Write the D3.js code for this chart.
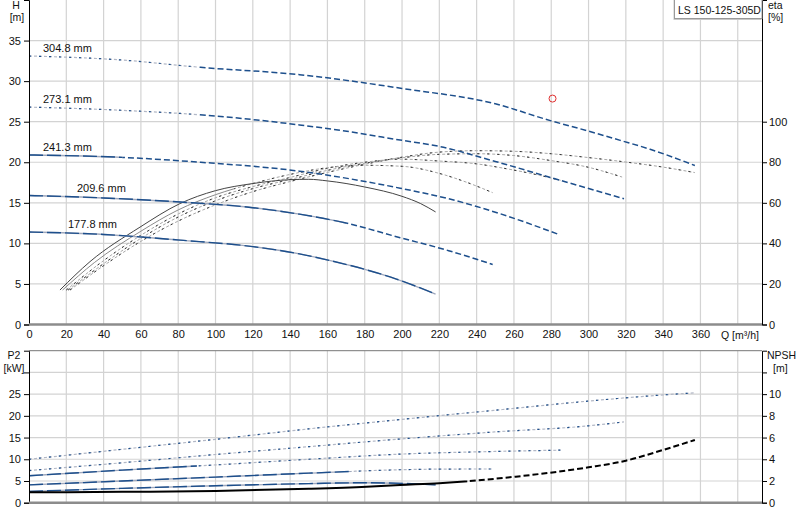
<!DOCTYPE html>
<html>
<head>
<meta charset="utf-8">
<title>LS 150-125-305D</title>
<script src="https://cdn.jsdelivr.net/npm/d3@7"></script>
<style>
	body { margin: 0; background: #fff; }
	text { font-family: Arial, "Liberation Sans", sans-serif; font-size: 11px; fill: #111; }
</style>
</head>
<body>
<script type="text/javascript">

	// impeller diameters, largest first
	var diameters = ["304.8 mm", "273.1 mm", "241.3 mm", "209.6 mm", "177.8 mm"];

	// Q [m3/h], H [m]
	var headCurves = [
		[[0,33.1],[50,32.6],[92,31.7],[145,30.8],[200,29.1],[250,27.2],[280,25.1],[299,23.9],[317,22.7],[333,21.6],[357,19.6]],
		[[0,26.8],[50,26.4],[100,25.7],[145,24.6],[168,23.9],[200,22.7],[220,21.95],[250,20.1],[280,18.1],[319,15.5]],
		[[0,20.9],[50,20.6],[92,20.0],[145,18.9],[199,16.8],[225,15.5],[252,13.7],[284,11.1]],
		[[0,15.9],[40,15.6],[81,15.1],[120,14.4],[145,13.6],[170,12.5],[199,10.7],[225,9.1],[248.6,7.4]],
		[[0,11.4],[40,11.1],[81,10.4],[120,9.6],[145,8.7],[161,7.9],[180,6.8],[197,5.6],[218,3.75]]
	];

	// Q [m3/h], eta [%]
	var etaCurves = [
		[[22,17],[40,29],[60,41],[80,51],[100,59],[120,65.5],[140,70.5],[160,75],[180,79],[200,82.5],[220,85],[240,85.7],[260,85.4],[280,84.2],[300,82.3],[320,80.1],[340,77.6],[357,74.9]],
		[[21,17],[40,30],[60,42.5],[80,53],[100,61],[120,67],[140,71.5],[160,76],[180,79.5],[200,82.2],[220,83.9],[240,84.2],[260,83.3],[280,80.8],[300,77.5],[318,72.7]],
		[[20,17],[40,31.5],[60,44],[80,54.5],[100,62.5],[120,68],[140,72.5],[160,77],[180,80],[200,81.5],[220,80.6],[240,79.2],[256,76.8],[270,74.3],[285,71.1]],
		[[18,17],[35,30.5],[60,46],[80,56.5],[100,64],[120,69.5],[140,74],[160,77.3],[180,78.5],[200,78],[220,74.5],[235,70],[248.6,65]],
		[[16.6,17],[32.7,31],[59.5,48],[80.9,59.6],[100,66],[120,69.5],[140,71.4],[150,71.6],[160,70.8],[180,67.8],[200,63.2],[210,59.6],[218,55.5]]
	];

	// Q [m3/h], P2 [kW]
	var powerCurves = [
		[[0,10.0],[50,12.3],[100,14.6],[150,17.0],[200,19.2],[250,21.3],[300,23.4],[330,24.5],[357,25.3]],
		[[0,7.4],[50,9.2],[100,11.1],[150,12.9],[200,14.7],[250,16.3],[300,17.7],[319,18.6]],
		[[0,6.2],[50,7.5],[100,8.7],[150,10.0],[200,11.2],[250,11.8],[285,12.1]],
		[[0,4.1],[50,5.0],[100,5.9],[150,6.8],[200,7.6],[225,7.75],[248.6,7.76]],
		[[0,2.6],[50,3.3],[100,3.9],[150,4.4],[180,4.6],[200,4.45],[218,4.1]]
	];

	// Q [m3/h], NPSH [m]
	var npshCurve = [[0,0.96],[50,1.0],[100,1.08],[150,1.28],[181,1.47],[199,1.63],[220,1.8],[261,2.4],[300,3.26],[320,3.87],[340,4.86],[357,5.78]];

	var dutyPoint = [280.7, 27.85];

	var qTicks = d3.range(0, 361, 20);
	var hTicks = d3.range(0, 36, 5);
	var etaTicks = d3.range(0, 101, 20);
	var p2Ticks = d3.range(0, 31, 5);
	var npshTicks = d3.range(0, 13, 2);

	// layout
	var width = 800, height = 520;
	var lpad = 29, rpad = 762;
	var top1 = 0, bot1 = 324.5, top2 = 350.7, bot2 = 502.7;

	var blue = "#1d4f8c";
	var st = {
		solid: [{ c: "#9fa8bd", w: 1.4 }, { c: blue, w: 1.4, d: "14,4" }],
		dash: [{ c: blue, w: 1.5, d: "6,3" }],
		dot: [{ c: "#b3b8c6", w: 1.2, d: "3,2" }, { c: blue, w: 1.2, d: "2,8" }],
		etaSolid: [{ c: "#444", w: 1 }],
		etaGray: [{ c: "#8a8a8a", w: 1 }],
		etaDot: [{ c: "#a8a8a8", w: 1, d: "3,2" }, { c: "#333", w: 1, d: "2,8" }],
		npsh: [{ c: "#000", w: 2 }],
		npshDash: [{ c: "#000", w: 2, d: "6,3" }]
	};
	// [style before break, break Q, style after]
	var headStyle = [[st.dot, 90, st.dash], [st.dot, 90, st.dash], [st.solid, 50, st.dash], [st.solid, 170, st.dash], [st.solid, 999, st.solid]];
	var etaStyle = [[st.etaDot, 0, st.etaDot], [st.etaDot, 0, st.etaDot], [st.etaDot, 0, st.etaDot], [st.etaGray, 110, st.etaDot], [st.etaSolid, 999, st.etaSolid]];
	var powerStyle = [[st.dot, 0, st.dot], [st.dot, 0, st.dot], [st.solid, 90, st.dot], [st.solid, 173, st.dot], [st.solid, 999, st.solid]];
	var labelQ = [7.5, 7.5, 7.5, 25.7, 20.9];

	var x = d3.scaleLinear().domain([0, 393]).range([lpad, rpad]);
	var yH = d3.scaleLinear().domain([0, 40]).range([bot1, top1]);
	var yEta = d3.scaleLinear().domain([0, 160]).range([bot1, top1]);
	var yP = d3.scaleLinear().domain([0, 35]).range([bot2, top2]);
	var yN = d3.scaleLinear().domain([0, 14]).range([bot2, top2]);

	var svg = d3.select("body").append("svg")
		.attr("width", width)
		.attr("height", height);
	var defs = svg.append("defs");

	// grid
	var grid = svg.append("g").attr("stroke", "#d3d3d3").attr("stroke-width", 1.2);
	d3.range(20, 381, 20).forEach(function (q) {
		grid.append("line").attr("x1", x(q)).attr("x2", x(q)).attr("y1", top1).attr("y2", bot1);
		grid.append("line").attr("x1", x(q)).attr("x2", x(q)).attr("y1", top2).attr("y2", bot2);
	});
	d3.range(5, 36, 5).forEach(function (h) {
		grid.append("line").attr("x1", lpad).attr("x2", rpad).attr("y1", yH(h)).attr("y2", yH(h));
	});
	d3.range(5, 31, 5).forEach(function (p) {
		grid.append("line").attr("x1", lpad).attr("x2", rpad).attr("y1", yP(p)).attr("y2", yP(p));
	});

	var clipCount = 0;
	function drawCurve(pts, yScale, style) {
		var line = d3.line().curve(d3.curveMonotoneX)
			.x(function (d) { return x(d[0]); })
			.y(function (d) { return yScale(d[1]); });
		var xb = x(style[1]);
		var parts = [[0, xb, style[0]], [xb, width, style[2]]];
		parts.forEach(function (p) {
			if (p[1] <= p[0]) return;
			var id = "clip" + (clipCount++);
			defs.append("clipPath").attr("id", id).append("rect")
				.attr("x", p[0]).attr("y", 0).attr("width", p[1] - p[0]).attr("height", height);
			p[2].forEach(function (s) {
				svg.append("path")
					.datum(pts)
					.attr("clip-path", "url(#" + id + ")")
					.attr("fill", "none")
					.attr("stroke", s.c)
					.attr("stroke-width", s.w)
					.attr("stroke-dasharray", s.d || null)
					.attr("d", line);
			});
		});
	}

	etaCurves.forEach(function (c, i) { drawCurve(c, yEta, etaStyle[i]); });
	headCurves.forEach(function (c, i) { drawCurve(c, yH, headStyle[i]); });
	powerCurves.forEach(function (c, i) { drawCurve(c, yP, powerStyle[i]); });
	drawCurve(npshCurve, yN, [st.npsh, 235, st.npshDash]);

	// curve labels
	svg.selectAll("text.dia")
		.data(diameters)
		.enter()
			.append("text")
			.attr("class", "dia")
			.attr("x", function (d, i) { return x(labelQ[i]); })
			.attr("y", function (d, i) { return yH(headCurves[i][0][1]) - 4; })
			.text(function (d) { return d; });

	svg.append("circle")
		.attr("cx", x(dutyPoint[0]))
		.attr("cy", yH(dutyPoint[1]))
		.attr("r", 3.5)
		.attr("fill", "none")
		.attr("stroke", "#e03030");

	// axes
	function styleAxis(g) {
		g.select(".domain").attr("stroke", "#000");
		g.selectAll(".tick line").attr("stroke", "#000");
		g.selectAll(".tick text").attr("fill", "#111").style("font-size", "11px")
			.style("font-family", "Arial, 'Liberation Sans', sans-serif");
	}
	svg.append("g").attr("transform", "translate(" + lpad + ",0)")
		.call(d3.axisLeft(yH).tickValues(hTicks).tickSizeOuter(0).tickSize(5).tickPadding(3)).call(styleAxis);
	svg.append("g").attr("transform", "translate(" + rpad + ",0)")
		.call(d3.axisRight(yEta).tickValues(etaTicks).tickSizeOuter(0).tickSize(5).tickPadding(2)).call(styleAxis);
	svg.append("g").attr("transform", "translate(" + lpad + ",0)")
		.call(d3.axisLeft(yP).tickValues(p2Ticks).tickFormat(function (d) { return d > 25 ? "" : d; })
			.tickSizeOuter(0).tickSize(5).tickPadding(3)).call(styleAxis);
	svg.append("g").attr("transform", "translate(" + rpad + ",0)")
		.call(d3.axisRight(yN).tickValues(npshTicks).tickFormat(function (d) { return d > 10 ? "" : d; })
			.tickSizeOuter(0).tickSize(5).tickPadding(2)).call(styleAxis);

	var xa = svg.append("g").attr("transform", "translate(0," + bot1 + ")")
		.call(d3.axisBottom(x).tickValues(qTicks).tickSize(0).tickPadding(6)).call(styleAxis);
	xa.select(".domain").remove();

	// bottom axis lines and frame
	svg.append("line").attr("x1", lpad).attr("x2", rpad).attr("y1", bot1).attr("y2", bot1)
		.attr("stroke", "#8c8c8c").attr("stroke-width", 2.5);
	svg.append("line").attr("x1", lpad).attr("x2", rpad).attr("y1", bot2).attr("y2", bot2)
		.attr("stroke", "#8c8c8c").attr("stroke-width", 2.5);
	svg.append("line").attr("x1", lpad).attr("x2", rpad).attr("y1", top2).attr("y2", top2)
		.attr("stroke", "#777").attr("stroke-width", 1);

	// axis titles
	var titles = [
		["H", 16, 8.5, "middle"], ["[m]", 17, 20.5, "middle"],
		["eta", 768, 8.5, "start"], ["[%]", 768, 20.5, "start"],
		["Q [m\u00b3/h]", 721, 339, "start"],
		["P2", 14, 359, "middle"], ["[kW]", 14, 371.5, "middle"],
		["NPSH", 767, 359, "start"], ["[m]", 773, 371.5, "start"]
	];
	svg.selectAll("text.title")
		.data(titles)
		.enter()
			.append("text")
			.attr("class", "title")
			.attr("x", function (d) { return d[1]; })
			.attr("y", function (d) { return d[2]; })
			.attr("text-anchor", function (d) { return d[3]; })
			.style("font-size", "10.5px")
			.text(function (d) { return d[0]; });

	// model box
	svg.append("rect").attr("x", 673.5).attr("y", -1).attr("width", 88).attr("height", 21)
		.attr("fill", "#c8c8c8");
	svg.append("rect").attr("x", 674.5).attr("y", -1).attr("width", 87.5).attr("height", 19.5)
		.attr("fill", "#fff").attr("stroke", "#999");
	svg.append("text").attr("x", 678).attr("y", 13.5).style("font-size", "10.5px").text("LS 150-125-305D");

</script>
</body>
</html>
